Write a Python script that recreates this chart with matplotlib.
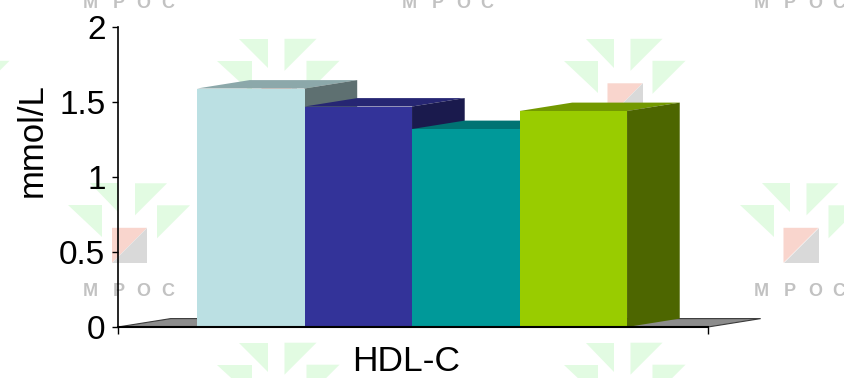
import matplotlib.pyplot as plt
from matplotlib.patches import Polygon

plt.rcParams['font.family'] = ['Liberation Sans', 'DejaVu Sans']

# data
categories = ['HDL-C']
values = [1.59, 1.47, 1.32, 1.44]
front_colors = ['#BBE0E3', '#333399', '#009999', '#99CC00']
top_colors = ['#8CA8AA', '#262673', '#007373', '#739900']
side_colors = ['#5E7071', '#1A1A4D', '#004D4D', '#4D6600']

W, H = 844, 378
fig = plt.figure(figsize=(W / 100, H / 100), dpi=100)


# background logo tiles, given in pixels from the top-left corner
def px(x, y):
    return (x / W, 1 - y / H)


def logo(cx, cy):
    tris = [
        [(-39.5, -62), (-11.5, -62), (-11.5, -33)],
        [(5.5, -62), (37.5, -62), (5.5, -30)],
        [(-61.5, -40), (-27.5, -40), (-27.5, -8)],
        [(27.5, -40), (60.5, -40), (27.5, -7)],
    ]
    for t in tris:
        fig.add_artist(Polygon([px(cx + a, cy + b) for a, b in t],
                               closed=True, facecolor='#E2FBE2', edgecolor='none',
                               transform=fig.transFigure, zorder=-2))
    s = 17.5
    fig.add_artist(Polygon([px(cx - s, cy - s), px(cx + s, cy - s), px(cx - s, cy + s)],
                           facecolor='#F9D5CD', edgecolor='none',
                           transform=fig.transFigure, zorder=-2))
    fig.add_artist(Polygon([px(cx + s, cy - s), px(cx + s, cy + s), px(cx - s, cy + s)],
                           facecolor='#D9D9D9', edgecolor='none',
                           transform=fig.transFigure, zorder=-2))
    for off, ch in zip([-39.5, -11, 14, 38], 'MPOC'):
        fig.text(*px(cx + off, cy + 45.7), ch, ha='center', va='center',
                 fontsize=13, fontweight='bold', color='#C2C2C2', zorder=-1)


for cy, cols in [(-41.7, [129.5, 449, 801]), (100.8, [-51, 279, 625]),
                 (245.3, [129.5, 449, 801]), (404.7, [279, 625])]:
    for cx in cols:
        logo(cx, cy)

ax = fig.add_axes([118 / W, 51 / H, 590 / W, 300 / H])
ax.patch.set_alpha(0)
xl = (-0.735, 4.753)
ax.set_xlim(*xl)
ax.set_ylim(0, 2)

# depth of the 3d effect in data units
dx, dy = 0.49, 0.056

# floor
ax.add_patch(Polygon([(xl[0], 0), (xl[1], 0), (xl[1] + dx, dy), (xl[0] + dx, dy)],
                     closed=True, facecolor='#8C8C8C', edgecolor='#3A3A3A',
                     linewidth=0.8, clip_on=False, zorder=1))

# bars, left to right so each one hides the side of the previous
for i, v in enumerate(values):
    x0, x1 = i, i + 1
    z = 2 + i
    ax.add_patch(Polygon([(x0, v), (x1, v), (x1 + dx, v + dy), (x0 + dx, v + dy)],
                         facecolor=top_colors[i], edgecolor='none', clip_on=False, zorder=z))
    ax.add_patch(Polygon([(x1, 0), (x1 + dx, dy), (x1 + dx, v + dy), (x1, v)],
                         facecolor=side_colors[i], edgecolor='none', clip_on=False, zorder=z))
    ax.add_patch(Polygon([(x0, 0), (x1, 0), (x1, v), (x0, v)],
                         facecolor=front_colors[i], edgecolor='none', clip_on=False, zorder=z))

for s in ['top', 'right']:
    ax.spines[s].set_visible(False)
ax.spines['left'].set_linewidth(1.2)
ax.spines['bottom'].set_linewidth(1.5)
ax.spines['bottom'].set_zorder(10)

ax.set_yticks([0, 0.5, 1, 1.5, 2])
ax.set_yticklabels(['0', '0.5', '1', '1.5', '2'])
ax.tick_params(axis='y', direction='out', length=4, width=1, pad=5, labelsize=24)
ax.set_xticks(list(xl))
ax.set_xticklabels(['', ''])
ax.tick_params(axis='x', direction='out', length=5, width=1)

ax.annotate(categories[0], xy=(2, 0), xytext=(-4, -13), textcoords='offset points',
            ha='center', va='top', fontsize=25.5)
fig.text(32 / W, 1 - 140 / H, 'mmol/L', rotation=90, ha='center', va='center', fontsize=25)

fig.savefig('out.png', dpi=100)
